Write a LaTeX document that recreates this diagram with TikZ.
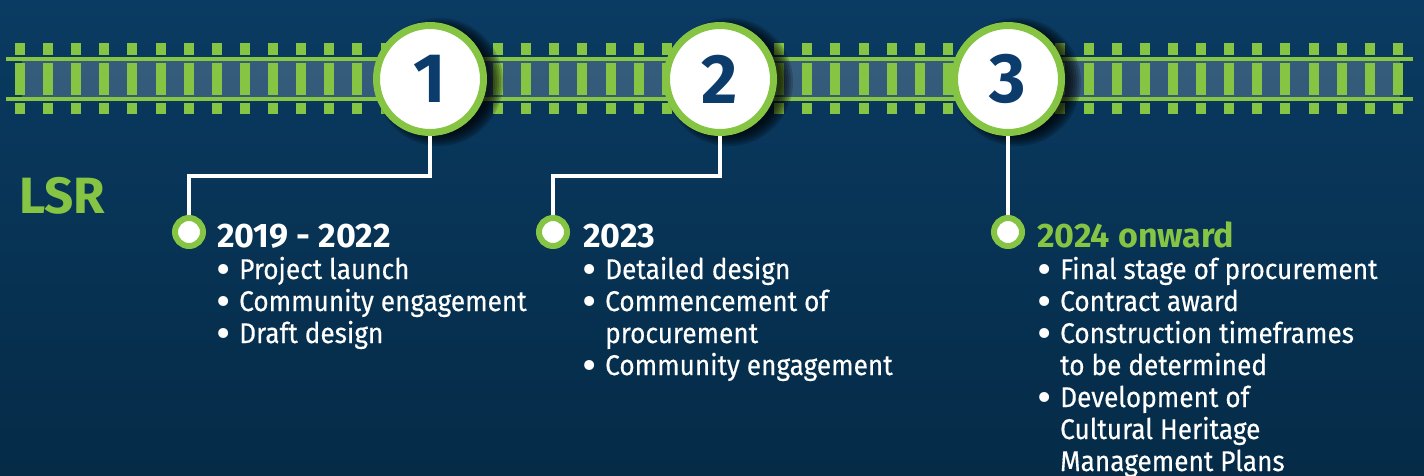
\documentclass[tikz,border=0pt]{standalone}
\usepackage{fontspec}
\setmainfont{Fira Sans}[FakeStretch=0.92]
\newfontfamily\itemfont{Fira Sans}[FakeStretch=0.92, FakeBold=0.4]
\newfontfamily\headfont{Fira Sans}
\definecolor{bgtop}{HTML}{0A3B62}
\definecolor{bgbot}{HTML}{052B47}
\definecolor{lime}{HTML}{86C443}
\definecolor{navy}{HTML}{0B3C6B}
% hanging bullet set in front of a list line
\newcommand\itembul{\llap{\makebox[32pt]{\raisebox{-5pt}[0pt][0pt]{\headfont\fontsize{44}{44}\selectfont •}}}}
\begin{document}
\begin{tikzpicture}[x=1pt,y=-1pt,
  stopring/.style={circle, draw=lime, line width=7pt, fill=white, minimum size=107pt,
    inner sep=0pt, text=navy, font=\headfont\fontsize{70}{70}\selectfont\bfseries},
  pin/.style={circle, draw=lime, line width=6pt, fill=white, minimum size=28pt, inner sep=0pt},
  conn/.style={draw=white, line width=4.5pt},
  rail/.style={draw=lime, line width=3.5pt},
  year/.style={anchor=base west, inner sep=0pt, text=white, font=\headfont\fontsize{34}{34}\selectfont\bfseries},
  item/.style={anchor=base west, inner sep=0pt, text=white, font=\itemfont\fontsize{28.5}{32}\selectfont},
]
\useasboundingbox (0,0) rectangle (1424,475);
% background
\shade[top color=bgtop, bottom color=bgbot] (0,0) rectangle (1424,475);

% track: bed, sleepers, rails
\fill[white, opacity=0.18] (22,61) rectangle (1400,97);
\foreach \k in {0,...,49} {
  \pgfmathsetmacro\tx{15+28.12*\k}
  \fill[lime] (\tx,43) rectangle ++(10,12);
  \fill[lime] (\tx,63) rectangle ++(10,32);
  \fill[lime] (\tx,103) rectangle ++(10,11);
}
\draw[rail] (6,59) -- (1413,59);
\draw[rail] (6,99) -- (1413,99);

% soft shadows behind the stations
\foreach \cx in {430,720,1008}
  \foreach \r in {52,54,...,64}
    \fill[black, opacity=0.17] (\cx+9,82) circle[radius=\r];

% stations and pins
\coordinate (s1) at (430,79);
\coordinate (s2) at (720,79);
\coordinate (s3) at (1008,79);
\coordinate (p1) at (189,232);
\coordinate (p2) at (553,232);
\coordinate (p3) at (1008,232);

\draw[conn] (s1) -- (s1 |- 0,176) -| (p1);
\draw[conn] (s2) -- (s2 |- 0,176) -| (p2);
\draw[conn] (s3) -- (p3);

\node[stopring] (c1) at (s1) {1};
\node[stopring] (c2) at (s2) {2};
\node[stopring] (c3) at (s3) {3};
\node[pin] (d1) at (p1) {};
\node[pin] (d2) at (p2) {};
\node[pin] (d3) at (p3) {};

% line label
\node[anchor=base west, inner sep=0pt, text=lime, font=\headfont\fontsize{51}{51}\selectfont\bfseries]
  (lsr) at (19,213) {LSR};

% column 1
\node[year] (h1) at (217,247) {2019 - 2022};
\foreach \t [count=\i from 0] in {\itembul Project launch, \itembul Community engagement, \itembul Draft design}
  \node[item] (a\i) at (239,279+32*\i) {\t};

% column 2
\node[year] (h2) at (583,247) {2023};
\foreach \t [count=\i from 0] in {\itembul Detailed design, \itembul Commencement of, procurement,
    \itembul Community engagement}
  \node[item] (b\i) at (605,279+32*\i) {\t};

% column 3
\node[year, text=lime] (h3) at (1037,247) {2024 onward};
\foreach \t [count=\i from 0] in {\itembul Final stage of procurement, \itembul Contract award,
    \itembul Construction timeframes, to be determined, \itembul Development of,
    Cultural Heritage, Management Plans}
  \node[item] (c\i) at (1060,279+32*\i) {\t};
\end{tikzpicture}
\end{document}
